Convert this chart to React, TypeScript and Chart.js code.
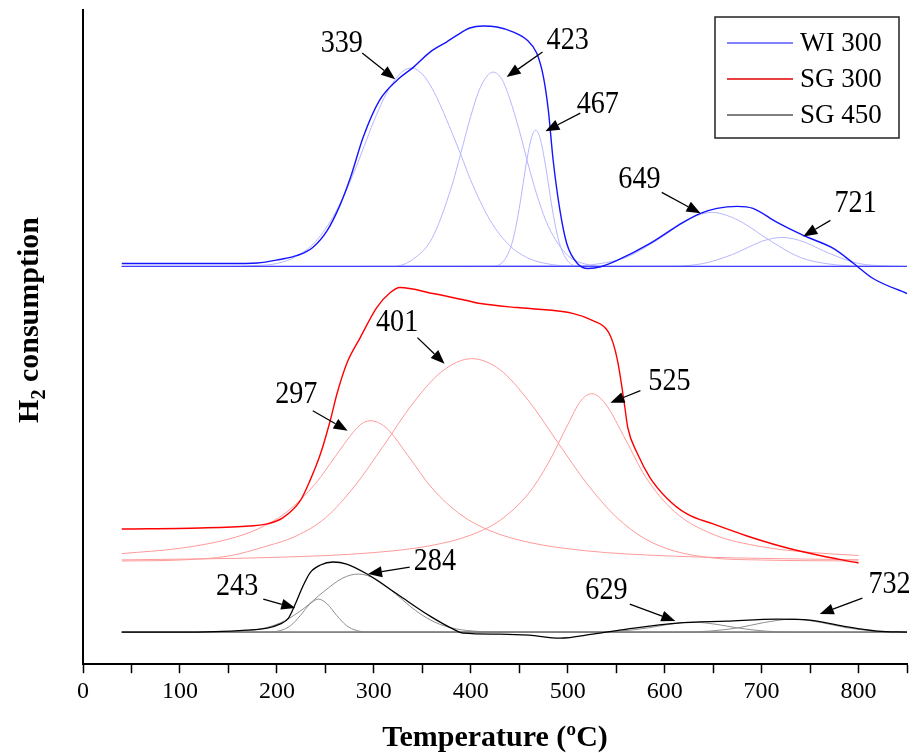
import { useEffect, useRef } from "react";
import { Chart, registerables } from "chart.js";

Chart.register(...registerables);

// H2-TPR profiles, [temperature (°C), signal (a.u.)], stacked with vertical offsets.

// WI 300
const wi300Profile = [
  [40, 400], [100, 400], [150, 400], [180, 400.5], [203, 404], [221, 408], [237, 416], [252, 433],
  [265, 458], [276, 486], [289, 526], [306, 563], [324, 583], [341, 596], [358, 611], [375, 621],
  [386, 628], [399, 635], [413, 637], [427, 636], [444, 631], [458, 623], [468, 610], [475, 586],
  [480, 553], [485, 503], [492, 453], [499, 420], [510, 400], [521, 395], [535, 397], [551, 403],
  [585, 420], [619, 441], [637, 450], [654, 455], [675, 457], [691, 455], [716, 441], [743, 428],
  [774, 415], [795, 400], [815, 385], [850, 370],
];
const wi300Baseline = [[40, 397], [850, 397]];
const wi300Peak339 = [
  [40, 397], [150, 397], [180, 398], [200, 400], [220, 407], [240, 422], [260, 450], [280, 492],
  [290, 517], [300, 542], [310, 564], [320, 581], [330, 592], [339, 595], [350, 589], [360, 575],
  [370, 555], [380, 532], [390, 508], [400, 483], [420, 443], [440, 418], [460, 405], [480, 399.5],
  [500, 397.5], [540, 397], [850, 397],
];
const wi300Peak423 = [
  [40, 397], [320, 397], [340, 404], [360, 425], [380, 476], [390, 511], [400, 547], [410, 576],
  [423, 591], [432, 584], [440, 565], [450, 533], [460, 496], [470, 463], [480, 437], [500, 408],
  [520, 399], [540, 397], [850, 397],
];
const wi300Peak467 = [
  [40, 397], [420, 397], [430, 399], [440, 413], [445, 429.5], [450, 455], [458, 504], [463, 526.7],
  [467, 533], [471, 526.7], [476, 504], [484, 455], [489, 429.5], [494, 413], [504, 399], [514, 397],
  [850, 397],
];
const wi300Peak649 = [
  [40, 397], [500, 397.4], [530, 399.4], [560, 406], [590, 422], [620, 441], [634, 448], [649, 451],
  [664, 448], [680, 441], [710, 422], [740, 406], [770, 399.4], [800, 397.4], [850, 397],
];
const wi300Peak721 = [
  [40, 397], [610, 397.4], [640, 400], [670, 409], [700, 422], [710, 424.7], [721, 426], [733, 424.6],
  [745, 421], [770, 410], [800, 400], [830, 397.5], [850, 397],
];

// SG 300
const sg300Profile = [
  [40, 135], [121, 136], [172, 138], [190, 140], [206, 146], [224, 163], [234, 183], [245, 210],
  [255, 243], [262, 270], [272, 300], [286, 326], [303, 356], [317, 371], [327, 376], [361, 370],
  [396, 363], [410, 360], [448, 356], [461, 355], [506, 350], [526, 343], [541, 333], [547, 320],
  [552, 300], [556, 276], [559, 256], [562, 236], [572, 210], [585, 186], [602, 166], [623, 150],
  [650, 140], [685, 128], [719, 118], [753, 110], [800, 101],
];
const sg300Peak297 = [
  [40, 110.4], [100, 115.7], [150, 124.8], [180, 134.8], [210, 151.8], [240, 180.5], [260, 207],
  [280, 233], [289, 241], [297, 243], [305, 241], [315, 234], [335, 208.5], [360, 175.8], [390, 149],
  [420, 133.2], [460, 121.6], [520, 113.1], [600, 108.2], [700, 105.6], [800, 104.3],
];
const sg300Peak401 = [
  [40, 103], [100, 104], [150, 108], [190, 118], [220, 128], [250, 146], [280, 177.5], [310, 218],
  [340, 260], [370, 292], [401, 305], [430, 294], [460, 262.5], [490, 221], [520, 180], [550, 147],
  [580, 125], [610, 113], [650, 106], [700, 104], [800, 103],
];
const sg300Peak525 = [
  [40, 104.1], [200, 106.7], [300, 111.4], [360, 118.6], [400, 128.9], [430, 143.5], [460, 170.9],
  [480, 200.8], [500, 239], [514, 263.5], [525, 270], [539, 259.8], [560, 223.6], [580, 187.5],
  [610, 152.4], [650, 129.6], [700, 117.3], [750, 111.6], [800, 108.5],
];

// SG 450
const sg450Profile = [
  [40, 32], [100, 32], [169, 34], [190, 36], [203, 40], [212, 46], [219, 60], [226, 76], [234, 91],
  [245, 99], [258, 102], [272, 100], [293, 90], [324, 70], [358, 48], [382, 35], [392, 31], [430, 30],
  [460, 29], [492, 26], [526, 30], [561, 35], [613, 41], [664, 43], [716, 45], [750, 44], [784, 38],
  [819, 33], [850, 32],
];
const sg450Baseline = [[40, 32], [850, 32]];
const sg450Peak243 = [
  [40, 32], [189, 32.1], [204, 33.7], [214, 38.4], [224, 48.3], [234, 60], [243, 65], [252, 60],
  [262, 48.3], [272, 38.4], [282, 33.7], [297, 32.1], [850, 32],
];
const sg450Peak284 = [
  [40, 32], [138, 32.1], [168, 33.3], [188, 36.2], [208, 43.3], [228, 55.8], [248, 72.2], [268, 86],
  [284, 90], [303, 84.4], [323, 69.7], [343, 53.6], [363, 41.9], [383, 35.6], [408, 32.7], [438, 32],
  [850, 32],
];
const sg450Peak629 = [
  [40, 32], [514, 32], [554, 33], [584, 36.4], [604, 39.7], [629, 42], [654, 39.7], [674, 36.4],
  [704, 33], [744, 32], [850, 32],
];
const sg450Peak732 = [
  [40, 32], [617, 32.1], [647, 33.1], [677, 36.5], [702, 41.5], [732, 45], [762, 41.5], [787, 36.5],
  [817, 33.1], [850, 32.1],
];

const xTickValues = [0, 100, 200, 300, 400, 500, 600, 700, 800];
const legendLabels = ["WI 300", "SG 300", "SG 450"];

// Peak callouts: fitted peak temperature, label centre, arrow tail and arrow head (data units)
const callouts = [
  { peak: 339, text: [267, 619], tail: [288, 610], head: [322, 584] },
  { peak: 423, text: [500, 622], tail: [474, 611], head: [437, 586] },
  { peak: 467, text: [531, 559], tail: [513, 550], head: [477, 532] },
  { peak: 649, text: [574, 484], tail: [597, 471], head: [637, 450] },
  { peak: 721, text: [797, 460], tail: [771, 443], head: [743, 427] },
  { peak: 297, text: [220, 269], tail: [237, 253], head: [273, 233] },
  { peak: 401, text: [324, 341], tail: [345, 326], head: [373, 300] },
  { peak: 525, text: [605, 282], tail: [575, 273], head: [544, 261] },
  { peak: 243, text: [159, 77], tail: [186, 65], head: [219, 56] },
  { peak: 284, text: [363, 102], tail: [337, 97], head: [294, 90] },
  { peak: 629, text: [540, 73], tail: [564, 60], head: [611, 43] },
  { peak: 732, text: [832, 79], tail: [804, 66], head: [760, 50] },
];

const SERIF = '"Liberation Serif", "Times New Roman", serif';
const BLUE = "#1414ff";
const BLUE_FIT = "#b6b6ff";
const BLUE_BASE = "#4040ff";
const RED = "#ff0000";
const RED_FIT = "#ff9a9a";
const BLACK = "#000000";
const GREY_FIT = "#8e8e8e";
const GREY_BASE = "#7c7c7c";
const legendColors = ["#5858ff", "#e00000", "#555555"];

function series(pts: number[][], color: string, width: number, order: number) {
  return {
    data: pts.map(([x, y]) => ({ x, y })),
    borderColor: color,
    borderWidth: width,
    pointRadius: 0,
    fill: false,
    cubicInterpolationMode: "monotone" as const,
    order,
  };
}

const overlayPlugin = {
  id: "tprOverlay",
  afterDatasetsDraw(chart: any) {
    const { ctx, chartArea, scales } = chart;
    const xs = scales.x;
    const ys = scales.y;
    ctx.save();

    // Peak labels with arrows
    ctx.fillStyle = "#000";
    ctx.strokeStyle = "#000";
    for (const c of callouts) {
      const tx = xs.getPixelForValue(c.text[0]);
      const ty = ys.getPixelForValue(c.text[1]);
      ctx.save();
      ctx.translate(tx, ty);
      ctx.scale(0.88, 1);
      ctx.font = `32px ${SERIF}`;
      ctx.textAlign = "center";
      ctx.textBaseline = "middle";
      ctx.fillText(String(c.peak), 0, 0);
      ctx.restore();

      const x0 = xs.getPixelForValue(c.tail[0]);
      const y0 = ys.getPixelForValue(c.tail[1]);
      const x1 = xs.getPixelForValue(c.head[0]);
      const y1 = ys.getPixelForValue(c.head[1]);
      const ang = Math.atan2(y1 - y0, x1 - x0);
      const L = 14;
      const W = 5.5;
      const cos = Math.cos(ang);
      const sin = Math.sin(ang);
      ctx.lineWidth = 1.3;
      ctx.beginPath();
      ctx.moveTo(x0, y0);
      ctx.lineTo(x1 - L * cos, y1 - L * sin);
      ctx.stroke();
      ctx.beginPath();
      ctx.moveTo(x1, y1);
      ctx.lineTo(x1 - L * cos + W * sin, y1 - L * sin - W * cos);
      ctx.lineTo(x1 - L * cos - W * sin, y1 - L * sin + W * cos);
      ctx.closePath();
      ctx.fill();
    }

    // Vertical axis title with subscript
    ctx.save();
    ctx.translate(chartArea.left - 55, chartArea.top + 310);
    ctx.rotate(-Math.PI / 2);
    ctx.fillStyle = "#000";
    ctx.textBaseline = "alphabetic";
    ctx.textAlign = "left";
    const big = `bold 30px ${SERIF}`;
    const small = `bold 20px ${SERIF}`;
    ctx.font = big;
    const wH = ctx.measureText("H").width;
    const wRest = ctx.measureText(" consumption").width;
    ctx.font = small;
    const w2 = ctx.measureText("2").width;
    const total = wH + w2 + wRest;
    let cx = -total / 2;
    const base = 10;
    ctx.font = big;
    ctx.fillText("H", cx, base);
    cx += wH;
    ctx.font = small;
    ctx.fillText("2", cx, base + 7);
    cx += w2;
    ctx.font = big;
    ctx.fillText(" consumption", cx, base);
    ctx.restore();

    // Legend box
    const bw = 184;
    const bh = 121;
    const bx = chartArea.right - 192;
    const by = chartArea.top + 7;
    ctx.fillStyle = "#fff";
    ctx.fillRect(bx, by, bw, bh);
    ctx.strokeStyle = "#222";
    ctx.lineWidth = 1.5;
    ctx.strokeRect(bx, by, bw, bh);
    ctx.font = `27px ${SERIF}`;
    ctx.textBaseline = "middle";
    ctx.textAlign = "left";
    legendLabels.forEach((label, i) => {
      const ly = by + 26 + i * 36;
      ctx.strokeStyle = legendColors[i];
      ctx.lineWidth = 1.3;
      ctx.beginPath();
      ctx.moveTo(bx + 12, ly);
      ctx.lineTo(bx + 78, ly);
      ctx.stroke();
      ctx.fillStyle = "#000";
      ctx.fillText(label, bx + 85, ly + 1);
    });

    ctx.restore();
  },
};

export default function App() {
  const canvasRef = useRef<HTMLCanvasElement | null>(null);

  useEffect(() => {
    const canvas = canvasRef.current;
    if (!canvas) return;
    const datasets = [
      series(wi300Peak339, BLUE_FIT, 1, 3),
      series(wi300Peak423, BLUE_FIT, 1, 3),
      series(wi300Peak467, BLUE_FIT, 1, 3),
      series(wi300Peak649, BLUE_FIT, 1, 3),
      series(wi300Peak721, BLUE_FIT, 1, 3),
      series(wi300Baseline, BLUE_BASE, 1.2, 2),
      series(wi300Profile, BLUE, 1.4, 1),
      series(sg300Peak297, RED_FIT, 1, 3),
      series(sg300Peak401, RED_FIT, 1, 3),
      series(sg300Peak525, RED_FIT, 1, 3),
      series(sg300Profile, RED, 1.4, 1),
      series(sg450Peak243, GREY_FIT, 1, 3),
      series(sg450Peak284, GREY_FIT, 1, 3),
      series(sg450Peak629, GREY_FIT, 1, 3),
      series(sg450Peak732, GREY_FIT, 1, 3),
      series(sg450Baseline, GREY_BASE, 1.3, 2),
      series(sg450Profile, BLACK, 1.3, 1),
    ];

    const chart = new Chart(canvas, {
      type: "line",
      data: { datasets },
      plugins: [overlayPlugin],
      options: {
        animation: false,
        responsive: true,
        maintainAspectRatio: false,
        layout: { padding: { left: 75, right: 6, top: 10, bottom: 0 } },
        plugins: { legend: { display: false }, tooltip: { enabled: false } },
        scales: {
          x: {
            type: "linear",
            min: 0,
            max: 850,
            border: { display: true, color: "#000", width: 2 },
            grid: { display: true, drawOnChartArea: false, drawTicks: true, tickLength: 9, tickColor: "#000", tickWidth: 1.5 },
            ticks: {
              stepSize: 50,
              autoSkip: false,
              maxRotation: 0,
              padding: 4,
              color: "#000",
              font: { family: SERIF, size: 24 },
              callback: (v: any) => (xTickValues.includes(Number(v)) ? String(v) : ""),
            },
            title: {
              display: true,
              text: "Temperature (ºC)",
              color: "#000",
              font: { family: SERIF, size: 30, weight: "bold", lineHeight: 1.0 },
              padding: { top: 13, bottom: 0 },
            },
          },
          y: {
            type: "linear",
            min: 0,
            max: 653,
            border: { display: true, color: "#000", width: 2 },
            grid: { display: false },
            ticks: { display: false },
          },
        },
      },
    });
    return () => chart.destroy();
  }, []);

  return (
    <div style={{ position: "fixed", left: 0, top: 0, width: 913, height: 753, background: "#fff" }}>
      <canvas ref={canvasRef} />
    </div>
  );
}
